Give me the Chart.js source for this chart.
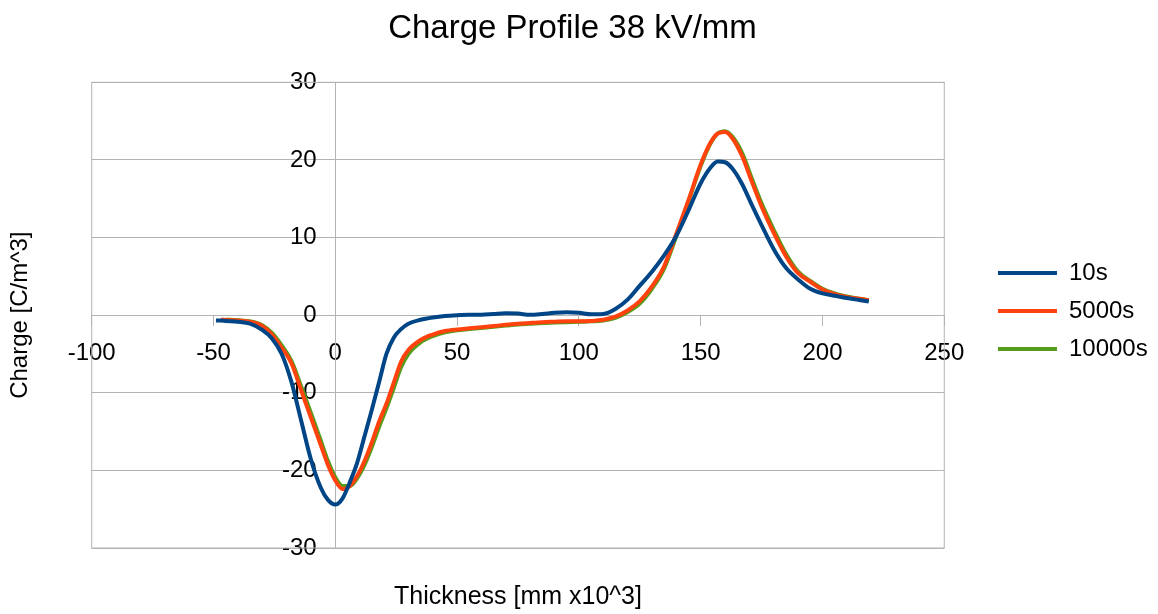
<!DOCTYPE html>
<html><head><meta charset="utf-8">
<script src="https://cdn.jsdelivr.net/npm/chart.js@4"></script>
<style>html,body{margin:0;padding:0;background:#fff;}canvas{display:block}</style>
</head><body>
<canvas id="c" width="1158" height="614"></canvas>
<script>
// ---- data ----
const thickness = [-49, -47, -45, -40, -35, -30, -26, -22, -18, -14, -10, -6, -3, 0, 3, 6, 9, 12, 15, 18, 21, 24, 27, 30, 35, 40, 45, 50, 55, 60, 65, 70, 75, 80, 85, 90, 95, 100, 105, 110, 115, 120, 125, 130, 135, 140, 145, 150, 154, 157, 160, 163, 167, 171, 175, 180, 185, 190, 195, 200, 205, 210, 215, 219];
const charge10s = [-0.7, -0.7, -0.75, -0.85, -1.1, -1.9, -3.0, -5.0, -8.6, -13.6, -18.6, -22.2, -23.8, -24.4, -23.6, -21.5, -19.0, -15.6, -12.2, -8.6, -5.0, -2.9, -1.8, -1.1, -0.6, -0.3, -0.1, 0.0, 0.05, 0.05, 0.15, 0.25, 0.2, 0.05, 0.15, 0.3, 0.37, 0.3, 0.1, 0.15, 0.8, 2.0, 3.8, 5.6, 7.7, 10.2, 13.5, 17.0, 19.0, 19.8, 19.7, 18.9, 16.9, 14.2, 11.6, 8.5, 6.1, 4.6, 3.4, 2.8, 2.5, 2.2, 1.95, 1.75];
const charge5000s = [null, -0.6, -0.62, -0.7, -0.85, -1.4, -2.5, -4.2, -6.2, -9.7, -13.2, -16.7, -19.3, -21.3, -22.4, -22.0, -20.7, -18.8, -16.4, -13.7, -11.4, -8.7, -6.0, -4.5, -3.2, -2.5, -2.05, -1.85, -1.7, -1.55, -1.4, -1.25, -1.12, -1.0, -0.9, -0.85, -0.8, -0.8, -0.75, -0.6, -0.2, 0.6, 1.8, 3.7, 6.3, 10.5, 14.8, 19.4, 22.2, 23.4, 23.6, 22.8, 20.5, 17.2, 14.0, 10.6, 7.6, 5.4, 4.3, 3.3, 2.7, 2.35, 2.1, 1.95];
const charge10000s = [null, null, -0.55, -0.65, -0.8, -1.3, -2.3, -3.9, -5.9, -9.2, -12.6, -16.1, -18.8, -20.9, -22.0, -22.0, -21.0, -19.3, -17.0, -14.4, -12.0, -9.4, -6.7, -5.0, -3.5, -2.7, -2.2, -1.95, -1.8, -1.65, -1.5, -1.35, -1.2, -1.1, -1.0, -0.95, -0.9, -0.85, -0.8, -0.7, -0.35, 0.4, 1.5, 3.4, 6.0, 10.2, 14.7, 19.2, 22.1, 23.4, 23.7, 23.0, 20.9, 17.6, 14.4, 11.0, 7.9, 5.6, 4.4, 3.4, 2.8, 2.4, 2.1, 1.95];
const seriesNames = ['10s', '5000s', '10000s'];
const seriesColors = ['#004586', '#ff420e', '#579d1c'];
const xTickValues = [-100, -50, 0, 50, 100, 150, 200, 250];
const yTickValues = [-30, -20, -10, 0, 10, 20, 30];
const chartTitle = 'Charge Profile 38 kV/mm';
const xAxisTitle = 'Thickness [mm x10^3]';
const yAxisTitle = 'Charge [C/m^3]';

const FONT = 'Liberation Sans, Arial, sans-serif';
const GRID = '#b3b3b3';

function toPoints(ys) {
  const pts = [];
  ys.forEach((v, i) => { if (v !== null) pts.push({x: thickness[i], y: v}); });
  return pts;
}
const seriesValues = [charge10s, charge5000s, charge10000s];

// plot-area frame + move the y tick labels left of the crossing axis (tick + gap)
const frame = {
  id: 'frame',
  beforeDraw(chart) {
    const items = chart.scales.y.getLabelItems();
    if (!items._shifted) {
      items.forEach(it => { it.options.translation[0] -= 18.6; });
      items._shifted = true;
    }
  },
  beforeDatasetsDraw(chart) {
    const {ctx, chartArea: a} = chart;
    ctx.save();
    ctx.strokeStyle = GRID;
    ctx.lineWidth = 1;
    ctx.strokeRect(a.left, a.top, a.right - a.left, a.bottom - a.top);
    ctx.restore();
  }
};

new Chart(document.getElementById('c'), {
  type: 'line',
  data: {
    datasets: seriesNames.map((name, i) => ({
      label: name,
      data: toPoints(seriesValues[i]),
      borderColor: seriesColors[i],
      backgroundColor: seriesColors[i],
      borderWidth: 4,
      pointRadius: 0,
      pointHoverRadius: 0,
      cubicInterpolationMode: 'monotone',
      fill: false,
      xAxisID: 'x',
      yAxisID: 'y'
    }))
  },
  options: {
    responsive: false,
    devicePixelRatio: 1,
    animation: false,
    events: [],
    layout: {padding: {top: 8, right: 0.3, bottom: 0, left: -12.7}},
    plugins: {
      title: {
        display: true, text: chartTitle, color: '#000',
        font: {family: FONT, size: 33, weight: 'normal', lineHeight: 1},
        padding: {top: 4, bottom: 37.3}
      },
      legend: {
        display: true, position: 'right', align: 'center', maxWidth: 400,
        labels: {
          usePointStyle: true, pointStyle: 'line', pointStyleWidth: 59,
          color: '#000', padding: 14,
          font: {family: FONT, size: 24}
        }
      },
      tooltip: {enabled: false}
    },
    scales: {
      x: {
        type: 'linear', position: {y: 0},
        min: -100, max: 250,
        afterBuildTicks: s => { s.ticks = xTickValues.map(v => ({value: v})); },
        grid: {drawOnChartArea: false, drawTicks: true, tickLength: 10, color: GRID},
        border: {display: true, color: GRID, width: 1},
        ticks: {color: '#000', font: {family: FONT, size: 24, lineHeight: 1.2}, padding: 13.5, autoSkip: false, maxRotation: 0}
      },
      y: {
        type: 'linear', position: {x: 0},
        min: -30, max: 30,
        afterBuildTicks: s => { s.ticks = yTickValues.map(v => ({value: v})); },
        grid: {drawOnChartArea: true, drawTicks: true, tickLength: 12, color: GRID},
        border: {display: true, color: GRID, width: 1},
        ticks: {color: '#000', font: {family: FONT, size: 24}, padding: 7, autoSkip: false}
      },
      xt: {
        type: 'linear', position: 'bottom', display: true,
        grid: {display: false, drawTicks: false}, border: {display: false},
        ticks: {display: false},
        title: {display: true, text: xAxisTitle, color: '#000', font: {family: FONT, size: 25, lineHeight: 1.2}, padding: {top: 0, bottom: 1.6}},
        afterFit: s => { s.height = 66; }
      },
      yt: {
        type: 'linear', position: 'left', display: true,
        grid: {display: false, drawTicks: false}, border: {display: false},
        ticks: {display: false},
        title: {display: true, text: yAxisTitle, color: '#000', font: {family: FONT, size: 24, lineHeight: 1.2}, padding: {top: 18.3, bottom: 0}},
        afterFit: s => { s.width = 104.4; }
      },
      yr: {
        type: 'linear', position: 'right', display: true,
        grid: {display: false, drawTicks: false}, border: {display: false},
        ticks: {display: false},
        afterFit: s => { s.width = 39.7; }
      }
    }
  },
  plugins: [frame]
});
</script>
</body></html>
